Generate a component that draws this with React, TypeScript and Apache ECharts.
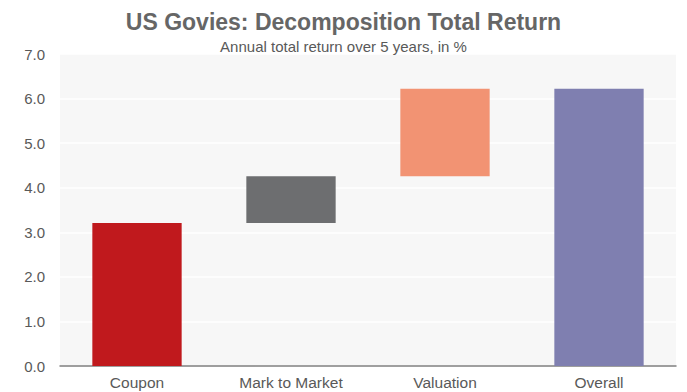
import React, { useEffect, useRef } from "react";
import * as echarts from "echarts";

const categories = ["Coupon", "Mark to Market", "Valuation", "Overall"];
const baseValues = [0, 3.21, 4.26, 0];
const barValues = [3.21, 1.05, 1.96, 6.22];
const barColors = ["#c0191d", "#6d6e70", "#f29373", "#7f7fb0"];

export default function App() {
  const ref = useRef<HTMLDivElement>(null);
  useEffect(() => {
    const chart = echarts.init(ref.current!, null, { renderer: "svg" });
    chart.setOption({
      animation: false,
      backgroundColor: "#ffffff",
      title: {
        text: "US Govies: Decomposition Total Return",
        subtext: "Annual total return over 5 years, in %",
        left: "center",
        top: 5,
        itemGap: 6,
        textStyle: { fontFamily: "Liberation Sans", fontSize: 23, fontWeight: "bold", color: "#666666" },
        subtextStyle: { fontFamily: "Liberation Sans", fontSize: 15, color: "#595959" },
      },
      grid: {
        left: 60,
        right: 11,
        top: 54,
        bottom: 26,
        show: true,
        backgroundColor: "#f7f7f7",
        borderWidth: 0,
      },
      xAxis: {
        type: "category",
        data: categories,
        axisTick: { show: false },
        axisLine: { lineStyle: { color: "#7f7f7f", width: 1.5 } },
        axisLabel: { fontFamily: "Liberation Sans", fontSize: 15.5, color: "#595959", margin: 8 },
      },
      yAxis: {
        type: "value",
        min: 0,
        max: 7,
        interval: 1,
        axisLabel: {
          fontFamily: "Liberation Sans",
          fontSize: 15,
          color: "#595959",
          margin: 15,
          formatter: (v: number) => v.toFixed(1),
        },
        splitLine: { lineStyle: { color: "#ffffff", width: 1.5 } },
        axisLine: { show: false },
        axisTick: { show: false },
      },
      series: [
        {
          type: "bar",
          stack: "w",
          data: baseValues,
          itemStyle: { color: "transparent" },
          barWidth: "58%",
          silent: true,
        },
        {
          type: "bar",
          stack: "w",
          data: barValues.map((v, i) => ({ value: v, itemStyle: { color: barColors[i] } })),
          barWidth: "58%",
        },
      ],
    });
    return () => chart.dispose();
  }, []);
  return (
    <div
      ref={ref}
      style={{ position: "absolute", left: 0, top: 0, width: 687, height: 392 }}
    />
  );
}
